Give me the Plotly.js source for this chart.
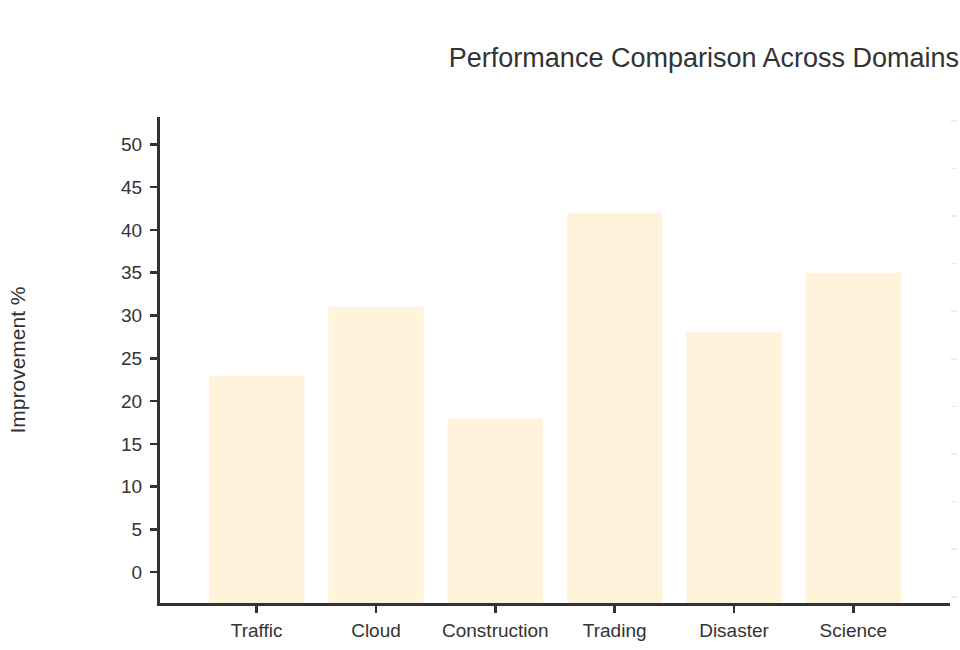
<!DOCTYPE html>
<html>
<head>
<meta charset="utf-8">
<script src="https://cdn.plot.ly/plotly-3.0.1.min.js"></script>
<style>html,body{margin:0;padding:0;background:#fff;}#chart{width:960px;height:650px;}</style>
</head>
<body>
<div id="chart"></div>
<script>
const categories = ["Traffic", "Cloud", "Construction", "Trading", "Disaster", "Science"];
const improvement = [23, 31, 18, 42, 28, 35];
const yTickValues = [0, 5, 10, 15, 20, 25, 30, 35, 40, 45, 50];

const yMin = -3.6, yMax = 53.2;
const FONT = "Liberation Sans, Arial, sans-serif";
const INK = "#333333";

const trace = {
  type: "bar",
  x: categories,
  y: improvement.map(v => v - yMin),
  base: yMin,
  marker: { color: "#fff3dc", line: { width: 0 } },
  hoverinfo: "skip",
  showlegend: false
};

const rightAxisHolder = {
  type: "scatter", mode: "markers",
  x: [], y: [], yaxis: "y2",
  hoverinfo: "skip", showlegend: false
};

const layout = {
  width: 960,
  height: 650,
  margin: { l: 160, r: 10, t: 117, b: 47 },
  paper_bgcolor: "#ffffff",
  plot_bgcolor: "#ffffff",
  font: { family: FONT, color: INK, size: 19 },
  bargap: 0.2,
  title: {
    text: "Performance Comparison Across Domains",
    font: { family: FONT, size: 27, color: INK },
    xref: "container", x: 0.999, xanchor: "right",
    yref: "container", y: 1 - 58 / 650, yanchor: "middle"
  },
  xaxis: {
    type: "category",
    range: [-0.81, 5.81],
    showline: true, linecolor: INK, linewidth: 3,
    ticks: "outside", ticklen: 7, tickwidth: 2.5, tickcolor: INK,
    ticklabelstandoff: 1,
    showgrid: false, zeroline: false,
    tickfont: { family: FONT, size: 19, color: INK },
    automargin: false
  },
  yaxis: {
    range: [yMin, yMax],
    tickvals: yTickValues,
    ticktext: yTickValues.map(String),
    showline: true, linecolor: INK, linewidth: 3,
    ticks: "outside", ticklen: 7, tickwidth: 2.5, tickcolor: INK,
    ticklabelstandoff: 4,
    showgrid: false, zeroline: false,
    tickfont: { family: FONT, size: 19, color: INK },
    title: { text: "Improvement %", font: { family: FONT, size: 21, color: INK }, standoff: 90 },
    automargin: false
  },
  yaxis2: {
    overlaying: "y", side: "right",
    range: [-0.13, 10.08], dtick: 1,
    showline: false, showgrid: false, zeroline: false,
    showticklabels: false,
    ticks: "outside", ticklen: 6, tickwidth: 1.5, tickcolor: "rgba(160,225,225,0.4)",
    minor: { ticks: "outside", dtick: 0.5, ticklen: 2, tickwidth: 1, tickcolor: "rgba(200,210,210,0.4)" }
  }
};

Plotly.newPlot("chart", [trace, rightAxisHolder], layout, { displayModeBar: false, staticPlot: true });
</script>
</body>
</html>
